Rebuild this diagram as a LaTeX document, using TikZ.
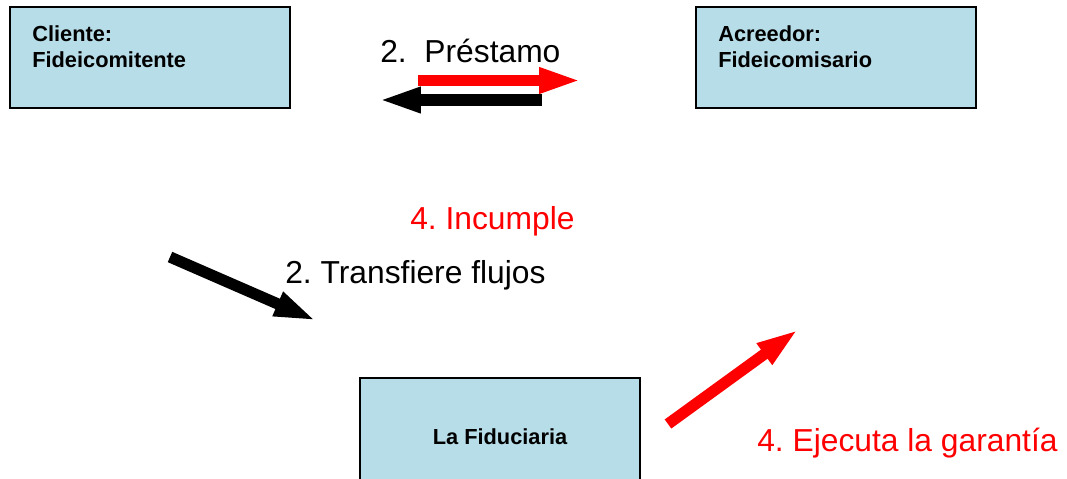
\documentclass[tikz,border=0pt]{standalone}
\usepackage{fontspec}
\setmainfont{Liberation Sans}
\usetikzlibrary{arrows.meta}
\frenchspacing

\definecolor{cajaazul}{RGB}{183,221,232}

\tikzset{
  caja/.style={draw=black, line width=1.2pt, fill=cajaazul, minimum width=7cm, inner sep=0pt},
  textocaja/.style={inner sep=0pt, align=left, font=\bfseries\fontsize{15.5}{18.5}\selectfont},
  etiqueta/.style={inner sep=0pt, font=\fontsize{22.6}{26}\selectfont},
  flecha/.style={line width=8pt, -{Triangle[length=30.5pt, width=16.5pt]}}
}

\begin{document}
\begin{tikzpicture}[x=0.025cm, y=-0.025cm]
\useasboundingbox (0,0) rectangle (1067,479);
\clip (0,0) rectangle (1067,479);

\coordinate (P1) at (418,80.5);
\coordinate (P2) at (582,80.5);
\coordinate (D1) at (542,100);
\coordinate (D2) at (378,100);

\coordinate (T1) at (170,257);
\coordinate (T2) at (317,321);

\coordinate (E1) at (668,424);
\coordinate (E2) at (799,329);

\node[caja, minimum height=2.525cm] (cliente) at (150,57.5) {};
\node[caja, minimum height=2.525cm] (acreedor) at (836,57.5) {};
\node[caja, minimum height=3.55cm] (fiduciaria) at (500,449) {};

\node[textocaja, anchor=north west] (clientetxt) at (32,25) {Cliente:\\Fideicomitente};
\node[textocaja, anchor=north west] (acreedortxt) at (718,25) {Acreedor:\\Fideicomisario};
\node[textocaja, anchor=base] (fiduciariatxt) at (500,444) {La Fiduciaria};

\node[etiqueta, anchor=base west] (prestamo) at (380,63) {2.\ \ Préstamo};
\node[etiqueta, anchor=base west, text=red] (incumple) at (410,229) {4. Incumple};
\node[etiqueta, anchor=base west] (transfiere) at (285,283) {2. Transfiere flujos};
\node[etiqueta, anchor=base west, text=red] (ejecuta) at (757,451) {4. Ejecuta la garantía};

\draw[flecha, red] (P1) -- (P2);
\draw[flecha, black] (D1) -- (D2);
\draw[flecha, black] (T1) -- (T2);
\draw[flecha, red] (E1) -- (E2);

\end{tikzpicture}
\end{document}
